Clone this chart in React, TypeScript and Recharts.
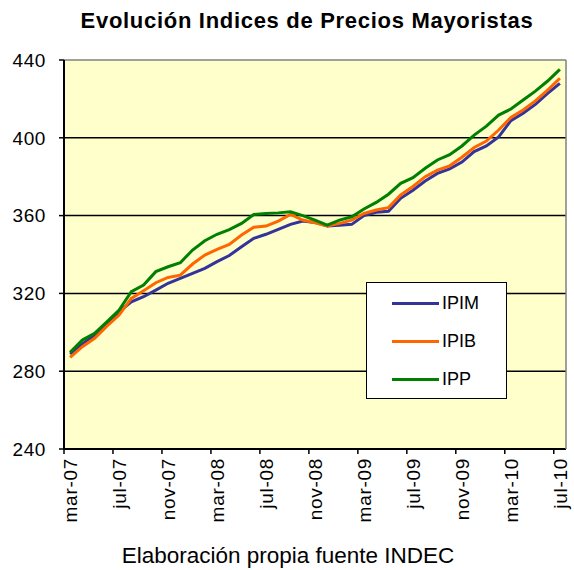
import React from "react";
import {
  LineChart,
  Line,
  XAxis,
  YAxis,
  CartesianGrid,
  Legend,
} from "recharts";

const months = [
  "mar-07", "abr-07", "may-07", "jun-07", "jul-07", "ago-07", "sep-07", "oct-07",
  "nov-07", "dic-07", "ene-08", "feb-08", "mar-08", "abr-08", "may-08", "jun-08",
  "jul-08", "ago-08", "sep-08", "oct-08", "nov-08", "dic-08", "ene-09", "feb-09",
  "mar-09", "abr-09", "may-09", "jun-09", "jul-09", "ago-09", "sep-09", "oct-09",
  "nov-09", "dic-09", "ene-10", "feb-10", "mar-10", "abr-10", "may-10", "jun-10",
  "jul-10",
];

const ipim = [
  288.8, 294.0, 298.5, 304.5, 310.6, 315.7, 318.3, 321.7, 325.2, 327.7,
  330.3, 332.9, 336.3, 339.5, 344.0, 348.3, 350.4, 352.9, 355.5, 357.2,
  356.5, 354.7, 355.1, 355.5, 360.0, 361.7, 362.2, 368.9, 373.0, 377.8,
  381.7, 384.0, 387.5, 392.9, 395.8, 400.5, 408.8, 412.6, 417.2, 422.8,
  428.0,
];

const ipib = [
  287.1, 292.6, 296.9, 303.2, 308.9, 317.4, 321.4, 325.5, 328.2, 329.4,
  335.1, 339.7, 342.6, 345.2, 350.0, 354.0, 354.6, 357.2, 360.6, 357.7,
  356.3, 354.7, 356.0, 357.7, 361.1, 362.9, 364.1, 370.6, 375.0, 380.0,
  383.4, 385.6, 390.0, 395.0, 398.3, 404.0, 410.5, 414.3, 419.0, 424.5,
  430.6,
];

const ipp = [
  289.7, 296.0, 299.5, 305.4, 311.4, 320.9, 324.3, 331.2, 333.7, 335.8,
  342.3, 347.1, 350.4, 352.8, 356.0, 360.6, 361.1, 361.4, 362.0, 360.0,
  357.7, 355.1, 357.7, 359.4, 363.4, 366.8, 371.0, 376.6, 379.5, 384.3,
  388.6, 391.3, 395.8, 401.4, 406.0, 411.7, 414.8, 419.4, 424.0, 429.2,
  435.2,
];

const seriesNames = ["IPIM", "IPIB", "IPP"];
const yTicks = [240, 280, 320, 360, 400, 440];
const gridValues = [280, 320, 360, 400];

const data = months.map((m, i) => ({
  month: m,
  IPIM: ipim[i],
  IPIB: ipib[i],
  IPP: ipp[i],
}));

const W = 574;
const H = 570;
const PLOT_W = 502;
const HALF = PLOT_W / months.length / 2;
const FONT = "'Liberation Sans', Arial, sans-serif";

const colors: Record<string, string> = {
  IPIM: "#333399",
  IPIB: "#FF6600",
  IPP: "#008000",
};

function MonthTick(props: any) {
  const { x, y, payload } = props;
  const ty = y + 9;
  return (
    <g>
      <line x1={x - HALF} x2={x - HALF} y1={y} y2={y + 5} stroke="#000" strokeWidth={1.5} />
      <text
        x={x}
        y={ty}
        transform={`rotate(-90, ${x}, ${ty})`}
        textAnchor="end"
        dy="0.36em"
        fontSize={19}
        letterSpacing={0.7}
        fill="#000"
      >
        {payload.value}
      </text>
    </g>
  );
}

function LegendBox(props: any) {
  const items = [...(props.payload || [])].sort(
    (a: any, b: any) => seriesNames.indexOf(a.value) - seriesNames.indexOf(b.value)
  );
  return (
    <div
      style={{
        width: 141,
        height: 117,
        boxSizing: "border-box",
        border: "1.5px solid #000",
        background: "#fff",
        paddingTop: 1,
        fontFamily: FONT,
      }}
    >
      {items.map((p: any) => (
        <div
          key={p.value}
          style={{ display: "flex", alignItems: "center", height: 38 }}
        >
          <div
            style={{
              marginLeft: 25,
              width: 47,
              height: 3,
              background: colors[p.value] || p.color,
            }}
          />
          <span style={{ marginLeft: 3, fontSize: 18, color: "#000" }}>
            {p.value}
          </span>
        </div>
      ))}
    </div>
  );
}

export default function App() {
  return (
    <div
      style={{
        position: "absolute",
        left: 0,
        top: 0,
        width: W,
        height: H,
        background: "#fff",
        fontFamily: FONT,
      }}
    >
      <div
        style={{
          position: "absolute",
          left: 0,
          width: 614,
          top: 8,
          textAlign: "center",
          fontWeight: "bold",
          fontSize: 22,
          letterSpacing: 0.7,
          color: "#000",
        }}
      >
        Evolución Indices de Precios Mayoristas
      </div>
      <LineChart
        width={W}
        height={H}
        data={data}
        margin={{ top: 0, right: 0, bottom: 0, left: 0 }}
      >
        <CartesianGrid
          vertical={false}
          horizontalValues={gridValues}
          stroke="#000"
          strokeWidth={1.5}
          fill="#FFFFCC"
          fillOpacity={1}
        />
        <XAxis
          dataKey="month"
          height={121}
          interval={3}
          padding={{ left: HALF, right: HALF }}
          tickSize={0}
          tickMargin={0}
          tickLine={false}
          axisLine={{ stroke: "#000", strokeWidth: 2 }}
          tick={<MonthTick />}
        />
        <XAxis
          xAxisId="top"
          dataKey="month"
          orientation="top"
          height={60}
          tick={false}
          tickLine={false}
          axisLine={{ stroke: "#808080", strokeWidth: 1.5 }}
        />
        <YAxis
          width={64}
          domain={[240, 440]}
          ticks={yTicks}
          interval={0}
          tickSize={5}
          tickMargin={13}
          axisLine={{ stroke: "#000", strokeWidth: 2 }}
          tickLine={{ stroke: "#000", strokeWidth: 1.5 }}
          tick={{ fontSize: 19, fill: "#000", letterSpacing: 0.6 }}
        />
        <YAxis
          yAxisId="right"
          orientation="right"
          width={8}
          domain={[240, 440]}
          tick={false}
          tickLine={false}
          axisLine={{ stroke: "#808080", strokeWidth: 1.5 }}
        />
        <Legend
          layout="vertical"
          align="center"
          verticalAlign="middle"
          content={<LegendBox />}
          wrapperStyle={{ left: 366, top: 282, width: 141, height: 117 }}
        />
        <Line
          type="linear"
          dataKey="IPIM"
          stroke={colors.IPIM}
          strokeWidth={3}
          dot={false}
          isAnimationActive={false}
        />
        <Line
          type="linear"
          dataKey="IPIB"
          stroke={colors.IPIB}
          strokeWidth={3}
          dot={false}
          isAnimationActive={false}
        />
        <Line
          type="linear"
          dataKey="IPP"
          stroke={colors.IPP}
          strokeWidth={3}
          dot={false}
          isAnimationActive={false}
        />
      </LineChart>
      <div
        style={{
          position: "absolute",
          left: 0,
          width: 576,
          top: 543,
          textAlign: "center",
          fontSize: 22.5,
          color: "#000",
        }}
      >
        Elaboración propia fuente INDEC
      </div>
    </div>
  );
}
